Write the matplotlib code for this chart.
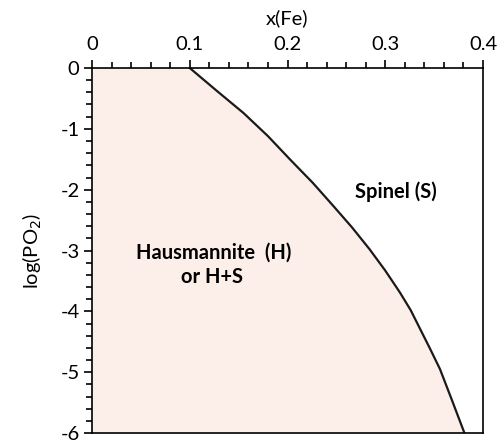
import numpy as np
import matplotlib.pyplot as plt
from matplotlib.ticker import MultipleLocator

plt.rcParams['font.family'] = ['Lato', 'DejaVu Sans']
plt.rcParams['axes.unicode_minus'] = False

# phase boundary
x_fe = [0.100, 0.128, 0.155, 0.180, 0.203, 0.226, 0.247, 0.266, 0.284, 0.300, 0.315, 0.326, 0.336, 0.346, 0.356, 0.368, 0.381]
log_po2 = [0.0, -0.38, -0.74, -1.12, -1.51, -1.89, -2.27, -2.62, -2.98, -3.33, -3.69, -3.98, -4.30, -4.62, -4.95, -5.45, -6.0]

fig = plt.figure(figsize=(4.98, 4.41), dpi=100)
ax = fig.add_axes([92 / 498, 1 - 433 / 441, 391 / 498, 365 / 441])

x_fill = [0.0] + x_fe + [0.0]
y_fill = [0.0] + log_po2 + [-6.0]
ax.fill(x_fill, y_fill, color='#fcefe9', lw=0)
ax.plot(x_fe, log_po2, color='#1a1a1a', lw=1.6)

ax.set_xlim(0, 0.4)
ax.set_ylim(-6, 0)
ax.xaxis.tick_top()
ax.xaxis.set_label_position('top')
ax.set_xticks([0, 0.1, 0.2, 0.3, 0.4])
ax.set_xticklabels(['0', '0.1', '0.2', '0.3', '0.4'])
ax.set_yticks(range(-6, 1))
ax.xaxis.set_minor_locator(MultipleLocator(0.02))
ax.yaxis.set_minor_locator(MultipleLocator(0.2))
ax.tick_params(which='both', direction='out', width=1.2, labelsize=14.5)
ax.tick_params(axis='x', pad=5)
ax.tick_params(axis='y', pad=3)
ax.tick_params(which='major', length=6)
ax.tick_params(which='minor', length=4)
for s in ax.spines.values():
    s.set_linewidth(1.2)

ax.set_xlabel('x(Fe)', fontsize=14.5, va='center')
ax.xaxis.set_label_coords(0.5, 1.137)
ax.set_ylabel('log(PO$_2$)', fontsize=14.5, labelpad=12)

ax.text(0.311, -2.03, 'Spinel (S)', fontsize=14.5, fontweight='bold', ha='center', va='center')
ax.text(0.124, -3.03, 'Hausmannite  (H)', fontsize=14.5, fontweight='bold', ha='center', va='center')
ax.text(0.123, -3.44, 'or H+S', fontsize=14.5, fontweight='bold', ha='center', va='center')

fig.savefig('out.png', dpi=100)
